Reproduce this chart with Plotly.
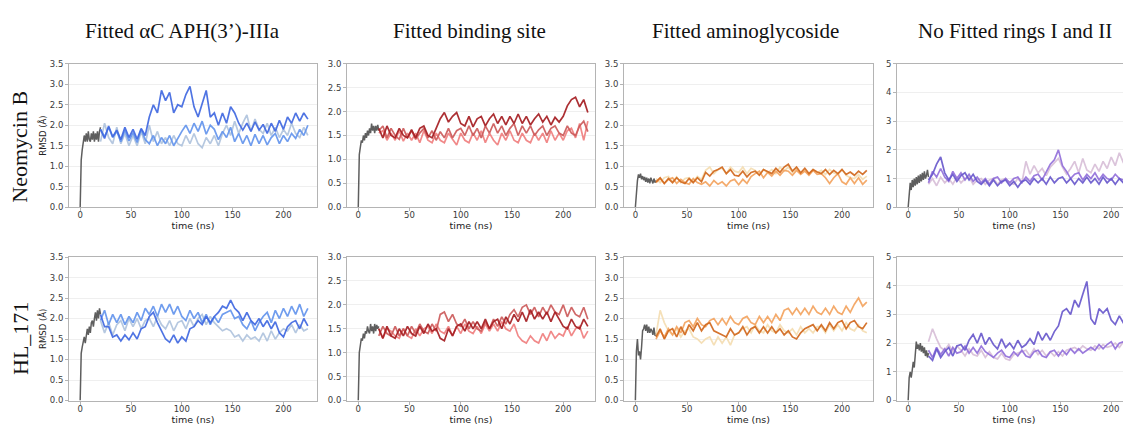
import plotly.graph_objects as go

# ---------------- data ----------------
COL_TITLES = ["Fitted αC APH(3’)-IIIa", "Fitted binding site", "Fitted aminoglycoside", "No Fitted rings I and II"]
ROW_LABELS = ["Neomycin B", "HL_171"]
X_TICKS = [0, 50, 100, 150, 200]
Y_MAX = [3.5, 3.0, 3.5, 5.0]
Y_STEP = [0.5, 0.5, 0.5, 1.0]

T_EQ = list(range(0, 21))            # equilibration time (ns)
T_RUN = list(range(20, 225, 4))      # production time (ns)

# --- row 1: Neomycin B ---
eq_nb_ac = [0.0, 1.15, 1.4, 1.55, 1.75, 1.6, 1.8, 1.6, 1.85, 1.65, 1.6, 1.8, 1.65, 1.85, 1.6, 1.8, 1.65, 1.85, 1.6, 1.85, 1.95]
nb_ac_1 = [1.9, 1.68, 1.98, 1.72, 1.88, 1.65, 1.95, 1.7, 1.9, 1.66, 1.92, 1.75,
           2.2, 2.5, 2.3, 2.85, 2.6, 2.8, 2.3, 2.5, 2.45, 2.75, 2.95, 2.45,
           2.2, 2.55, 2.85, 2.2, 2.3, 2.0, 2.3, 2.05, 2.45, 2.3, 2.05, 1.88, 2.05, 1.85, 2.08, 1.88,
           2.02, 1.8, 2.05, 1.85, 2.12, 1.9, 2.2, 2.05, 2.3, 2.1, 2.3, 2.15]
nb_ac_2 = [1.9, 1.72, 1.95, 1.7, 1.85, 1.6, 1.88, 1.62, 1.82, 1.58, 1.9, 1.65,
           1.55, 1.75, 1.5, 1.7, 1.55, 1.75, 1.5, 1.68, 1.85, 2.0, 1.8, 2.05,
           1.85, 2.1, 1.78, 2.0, 1.9, 1.65, 1.85, 1.7, 1.95, 1.6, 1.8, 1.55, 1.75, 1.5, 1.78, 1.55,
           1.75, 1.52, 1.7, 1.8, 1.55, 1.75, 1.6, 1.8, 1.68, 1.9, 1.75, 2.0]
nb_ac_3 = [1.6, 2.05, 1.7, 1.55, 1.95, 1.55, 1.8, 1.5, 1.75, 1.5, 1.85, 1.55,
           2.0, 1.6, 1.85, 1.55, 1.7, 1.5, 1.75, 1.55, 1.5, 1.75, 1.55, 1.8,
           1.55, 1.45, 1.7, 1.55, 1.75, 1.5, 1.8, 2.0, 1.75, 2.1, 1.8, 2.05, 2.25, 1.85, 2.15, 1.9,
           1.8, 2.05, 1.75, 1.95, 1.7, 1.9, 1.75, 2.05, 1.8, 1.7, 1.95, 1.75]

eq_nb_bs = [0.0, 1.1, 1.25, 1.4, 1.35, 1.5, 1.4, 1.55, 1.45, 1.6, 1.5, 1.65, 1.55, 1.75, 1.6, 1.7, 1.55, 1.7, 1.6, 1.72, 1.6]
nb_bs_1 = [1.65, 1.45, 1.7, 1.5, 1.45, 1.65, 1.5, 1.45, 1.62, 1.45, 1.65, 1.7,
           1.5, 1.45, 1.65, 1.85, 1.98, 1.78, 1.9, 1.98, 1.75, 1.7, 1.9, 1.68,
           1.85, 1.9, 1.7, 1.85, 1.95, 1.75, 1.9, 1.72, 1.9, 1.75, 1.95, 1.75, 1.9, 1.72, 1.85, 1.95,
           1.78, 1.9, 1.72, 1.88, 1.78, 1.9, 2.12, 2.25, 2.3, 2.1, 2.25, 1.98]
nb_bs_2 = [1.6, 1.7, 1.45, 1.65, 1.5, 1.42, 1.65, 1.45, 1.6, 1.42, 1.55, 1.65,
           1.45, 1.6, 1.4, 1.58, 1.45, 1.65, 1.45, 1.6, 1.65, 1.5, 1.7, 1.5,
           1.65, 1.45, 1.7, 1.55, 1.75, 1.55, 1.7, 1.5, 1.65, 1.75, 1.5, 1.7, 1.55, 1.7, 1.5, 1.62,
           1.7, 1.5, 1.65, 1.7, 1.55, 1.5, 1.7, 1.55, 1.5, 1.7, 1.8, 1.58]
nb_bs_3 = [1.55, 1.6, 1.4, 1.55, 1.4, 1.6, 1.38, 1.55, 1.4, 1.55, 1.35, 1.6,
           1.4, 1.35, 1.55, 1.4, 1.35, 1.55, 1.42, 1.3, 1.55, 1.4, 1.35, 1.55,
           1.4, 1.6, 1.35, 1.55, 1.4, 1.3, 1.55, 1.4, 1.6, 1.4, 1.35, 1.55, 1.4, 1.35, 1.55, 1.4,
           1.55, 1.35, 1.6, 1.4, 1.55, 1.4, 1.6, 1.65, 1.45, 1.75, 1.4, 1.8]

eq_nb_ag = [0.0, 0.45, 0.65, 0.8, 0.72, 0.82, 0.68, 0.76, 0.66, 0.74, 0.62, 0.72, 0.6, 0.7, 0.58, 0.72, 0.62, 0.58, 0.7, 0.6, 0.65]
nb_ag_1 = [0.62, 0.72, 0.58, 0.7, 0.6, 0.72, 0.62, 0.58, 0.7, 0.6, 0.72, 0.62,
           0.85, 0.76, 0.88, 0.92, 0.98, 0.82, 0.92, 0.78, 0.76, 0.88, 0.74, 0.85,
           0.88, 0.78, 0.92, 0.86, 0.82, 0.95, 0.85, 0.98, 1.05, 0.88, 0.98, 0.84, 0.95, 0.82, 0.92, 0.86,
           0.82, 0.92, 0.8, 0.9, 0.82, 0.92, 0.8, 0.86, 0.78, 0.88, 0.8, 0.9]
nb_ag_2 = [0.6, 0.7, 0.58, 0.68, 0.72, 0.58, 0.68, 0.6, 0.56, 0.7, 0.6, 0.56,
           0.62, 0.52, 0.65, 0.56, 0.62, 0.52, 0.64, 0.68, 0.55, 0.68, 0.58, 0.75,
           0.82, 0.88, 0.72, 0.85, 0.76, 0.88, 0.78, 0.9, 0.88, 0.78, 0.9, 0.8, 0.88, 0.78, 0.9, 0.8,
           0.82, 0.72, 0.58, 0.72, 0.82, 0.62, 0.56, 0.72, 0.58, 0.72, 0.56, 0.66]
nb_ag_3 = [0.7, 0.6, 0.72, 0.75, 0.62, 0.74, 0.6, 0.7, 0.72, 0.62, 0.75, 0.68,
           0.9, 0.98, 0.82, 0.92, 0.95, 0.82, 0.98, 0.88, 0.85, 0.98, 0.82, 0.95,
           0.9, 0.8, 0.92, 0.84, 0.92, 0.82, 0.98, 0.88, 0.98, 0.85, 0.94, 0.82, 0.9, 0.8, 0.92, 0.84,
           0.9, 0.8, 0.92, 0.84, 0.8, 0.92, 0.78, 0.72, 0.7, 0.8, 0.68, 0.76]

eq_nb_rg = [0.0, 0.5, 0.85, 0.6, 0.95, 0.7, 1.0, 0.75, 1.05, 0.8, 1.1, 0.85, 1.15, 0.9, 1.2, 0.95, 1.25, 1.0, 1.1, 1.3, 1.05]
nb_rg_1 = [0.95, 1.15, 1.5, 1.75, 1.2, 0.95, 1.15, 0.9, 1.1, 1.2, 0.95, 1.15,
           0.9, 0.8, 0.95, 0.75, 0.95, 0.75, 0.9, 0.95, 0.75, 0.9, 0.7, 0.9,
           0.95, 0.8, 1.0, 0.85, 1.0, 0.8, 1.05, 0.85, 1.0, 1.05, 0.85, 1.0, 0.8, 1.0, 0.85, 1.05,
           0.85, 1.0, 0.8, 1.05, 0.85, 1.0, 0.8, 1.0, 0.85, 1.05, 0.85, 1.0]
nb_rg_2 = [0.85, 1.25, 1.05, 1.35, 1.05, 0.9, 1.25, 1.0, 1.2, 0.95, 1.15, 0.9,
           1.05, 0.85, 1.0, 0.8, 1.0, 1.05, 0.85, 1.0, 0.85, 1.0, 1.05, 0.85,
           1.05, 0.9, 1.1, 1.15, 0.95, 1.25, 1.5, 1.65, 2.0, 1.45, 1.25, 1.0, 1.15, 1.2, 0.95, 1.15,
           1.0, 1.2, 0.95, 1.15, 1.0, 0.95, 1.15, 1.0, 0.95, 1.15, 1.0, 1.05]
nb_rg_3 = [0.8, 1.0, 0.75, 1.05, 0.85, 1.0, 0.8, 1.05, 0.85, 1.0, 1.05, 0.8,
           0.95, 1.0, 0.8, 0.95, 1.0, 0.8, 0.95, 1.0, 0.85, 0.8, 1.0, 0.85,
           1.6, 1.15, 1.45, 1.2, 1.35, 1.1, 1.4, 1.55, 1.7, 1.4, 1.15, 1.35, 1.6, 1.2, 1.7, 1.3,
           1.2, 1.5, 1.25, 1.6, 1.35, 1.75, 1.45, 1.9, 1.55, 1.4, 1.8, 1.55]

# --- row 2: HL_171 ---
eq_hl_ac = [0.0, 1.15, 1.3, 1.45, 1.55, 1.4, 1.6, 1.75, 1.6, 1.8, 1.65, 1.9, 1.95, 1.8, 2.0, 2.15, 1.95, 2.2, 2.0, 2.25, 2.1]
hl_ac_1 = [2.1, 1.8, 1.8, 1.55, 1.6, 1.45, 1.6, 1.48, 1.65, 1.5, 1.75, 1.8,
           2.05, 2.15, 1.9, 1.7, 1.5, 1.42, 1.6, 1.4, 1.55, 1.45, 1.75, 1.8,
           1.95, 1.85, 2.05, 1.9, 2.05, 2.15, 2.3, 2.25, 2.45, 2.25, 2.15, 1.95, 2.15, 1.95, 1.85, 2.0,
           1.8, 1.95, 1.75, 1.92, 1.65, 1.55, 1.8, 1.9, 1.95, 1.75, 2.0, 1.82]
hl_ac_2 = [1.95, 2.2, 1.85, 2.1, 1.9, 2.1, 1.85, 2.05, 1.9, 2.15, 1.95, 2.25,
           2.1, 2.3, 2.05, 2.35, 2.15, 2.35, 2.1, 2.3, 2.05, 1.95, 2.2, 2.0,
           2.15, 1.9, 2.1, 1.85, 2.05, 1.9, 2.1, 2.15, 2.2, 2.0, 2.05, 1.85, 1.75, 1.95, 1.7, 1.9,
           2.05, 2.15, 1.9, 2.2, 2.0, 2.25, 2.05, 2.3, 2.1, 2.35, 2.05, 2.25]
hl_ac_3 = [1.95, 1.65, 1.9, 1.6, 1.85, 1.95, 1.7, 2.0, 1.8, 2.0, 1.75, 1.95,
           2.0, 1.8, 2.05, 1.85, 1.75, 1.95, 1.7, 1.9, 1.95, 1.75, 2.0, 1.8,
           2.0, 2.1, 1.85, 2.05, 1.9, 1.8, 1.7, 1.75, 1.7, 1.55, 1.6, 1.45, 1.6, 1.5, 1.55, 1.45,
           1.65, 1.45, 1.7, 1.5, 1.65, 1.75, 1.7, 1.85, 1.65, 1.85, 1.7, 1.75]

eq_hl_bs = [0.0, 1.0, 1.15, 1.3, 1.25, 1.4, 1.3, 1.45, 1.4, 1.55, 1.45, 1.4, 1.6, 1.45, 1.55, 1.4, 1.6, 1.45, 1.58, 1.5, 1.55]
hl_bs_1 = [1.5, 1.3, 1.55, 1.35, 1.3, 1.5, 1.35, 1.55, 1.4, 1.35, 1.55, 1.4,
           1.6, 1.45, 1.5, 1.3, 1.25, 1.5, 1.35, 1.55, 1.6, 1.45, 1.65, 1.5,
           1.65, 1.5, 1.7, 1.5, 1.65, 1.7, 1.5, 1.75, 1.6, 1.8, 1.65, 1.85, 1.65, 1.9, 1.7, 1.85,
           1.7, 1.85, 1.65, 1.85, 1.7, 1.55, 1.5, 1.7, 1.55, 1.5, 1.7, 1.55]
hl_bs_2 = [1.35, 1.55, 1.4, 1.35, 1.55, 1.35, 1.5, 1.35, 1.55, 1.4, 1.6, 1.45,
           1.4, 1.6, 1.45, 1.8, 1.85, 1.65, 1.8, 1.6, 1.55, 1.7, 1.5, 1.65,
           1.5, 1.45, 1.65, 1.5, 1.7, 1.55, 1.75, 1.6, 1.8, 1.9, 1.75, 1.95, 2.0, 1.8, 1.95, 1.75,
           1.95, 1.8, 2.0, 1.85, 1.8, 2.0, 1.75, 1.95, 1.8, 1.75, 1.95, 1.7]
hl_bs_3 = [1.5, 1.3, 1.5, 1.45, 1.35, 1.3, 1.5, 1.35, 1.3, 1.5, 1.35, 1.5,
           1.55, 1.4, 1.6, 1.45, 1.4, 1.55, 1.35, 1.55, 1.4, 1.6, 1.45, 1.4,
           1.55, 1.4, 1.6, 1.45, 1.6, 1.45, 1.65, 1.5, 1.45, 1.6, 1.35, 1.25, 1.2, 1.35, 1.25, 1.2,
           1.4, 1.25, 1.45, 1.3, 1.4, 1.35, 1.55, 1.35, 1.5, 1.55, 1.3, 1.45]

eq_hl_ag = [0.0, 1.2, 1.5, 1.1, 1.2, 1.0, 1.3, 1.7, 1.75, 1.85, 1.7, 1.85, 1.65, 1.8, 1.65, 1.75, 1.7, 1.6, 1.78, 1.58, 1.65]
hl_ag_1 = [1.55, 1.75, 1.5, 1.7, 1.75, 1.55, 1.8, 1.6, 1.85, 1.7, 1.9, 1.7,
           1.85, 1.9, 1.7, 1.65, 1.6, 1.55, 1.75, 1.6, 1.65, 1.8, 1.6, 1.75,
           1.8, 1.65, 1.8, 1.65, 1.8, 1.65, 1.75, 1.6, 1.7, 1.55, 1.5, 1.65, 1.75, 1.8, 1.85, 1.7,
           1.85, 1.7, 1.9, 1.75, 1.9, 1.95, 1.75, 1.9, 1.95, 1.8, 1.75, 1.9]
hl_ag_2 = [1.5, 1.7, 1.55, 1.75, 1.6, 1.8, 1.65, 1.9, 1.95, 1.8, 2.0, 1.85,
           1.8, 1.95, 2.0, 1.85, 2.0, 1.85, 2.05, 1.9, 1.85, 2.0, 2.05, 1.9,
           1.85, 2.05, 1.9, 2.05, 1.9, 2.1, 1.95, 2.2, 2.25, 2.1, 2.25, 2.1, 2.25, 2.1, 2.3, 2.15,
           2.1, 2.25, 2.1, 2.3, 2.15, 2.1, 2.3, 2.15, 2.35, 2.5, 2.3, 2.4]
hl_ag_3 = [1.6, 2.2, 1.9, 1.7, 1.6, 1.75, 1.55, 1.7, 1.75, 1.55, 1.5, 1.4,
           1.5, 1.55, 1.35, 1.55, 1.4, 1.55, 1.35, 1.6, 1.65, 1.75, 1.8, 1.65,
           1.85, 1.7, 1.65, 1.85, 1.7, 1.65, 1.85, 1.7, 1.65, 1.75, 1.6, 1.8, 1.65, 1.75, 1.65, 1.8,
           1.8, 1.65, 1.85, 1.7, 1.85, 1.7, 1.9, 1.75, 1.7, 1.85, 1.7, 1.65]

eq_hl_rg = [0.0, 0.8, 1.0, 0.8, 1.05, 1.35, 1.15, 1.8, 2.05, 1.8, 1.95, 1.75, 2.0, 1.7, 1.9, 1.65, 1.85, 1.55, 1.75, 1.5, 1.65]
hl_rg_1 = [1.55, 1.4, 1.8, 1.5, 1.7, 1.85, 1.55, 1.9, 1.95, 1.75, 2.1, 2.3,
           2.0, 2.35, 1.95, 2.2, 1.95, 1.8, 2.15, 1.85, 2.0, 1.8, 2.1, 1.85,
           1.95, 2.15, 1.95, 2.4, 2.1, 2.35, 2.1, 2.4, 2.6, 3.1, 3.2, 3.0, 3.5, 3.25, 3.7, 4.15,
           2.85, 2.65, 3.2, 3.05, 3.2, 2.8, 2.65, 2.95, 2.7, 2.5, 2.8, 2.45]
hl_rg_2 = [1.75, 1.5, 1.85, 1.6, 1.8, 1.55, 1.85, 1.65, 1.7, 1.9, 1.65, 1.85,
           1.65, 1.9, 1.7, 1.6, 1.5, 1.65, 1.75, 1.55, 1.5, 1.7, 1.55, 1.75,
           1.55, 1.5, 1.7, 1.75, 1.55, 1.5, 1.7, 1.75, 1.55, 1.75, 1.6, 1.8, 1.65, 1.8, 1.65, 1.75,
           1.85, 1.75, 1.95, 1.8, 1.95, 2.05, 1.8, 2.0, 2.05, 1.85, 2.1, 1.9]
hl_rg_3 = [2.05, 2.5, 2.15, 1.85, 1.75, 1.95, 1.7, 1.9, 1.75, 1.55, 1.8, 1.6,
           1.55, 1.75, 1.5, 1.7, 1.5, 1.45, 1.65, 1.45, 1.4, 1.6, 1.65, 1.7,
           1.75, 1.55, 1.8, 1.6, 1.75, 1.55, 1.7, 1.55, 1.7, 1.55, 1.75, 1.8, 1.85, 1.75, 1.9, 1.8,
           1.75, 1.9, 1.8, 1.95, 1.85, 1.9, 2.0, 1.85, 2.05, 1.95, 2.1, 1.9]

EQ = [[eq_nb_ac, eq_nb_bs, eq_nb_ag, eq_nb_rg], [eq_hl_ac, eq_hl_bs, eq_hl_ag, eq_hl_rg]]
RUNS = [
    [[nb_ac_3, nb_ac_2, nb_ac_1], [nb_bs_3, nb_bs_2, nb_bs_1], [nb_ag_3, nb_ag_2, nb_ag_1], [nb_rg_3, nb_rg_2, nb_rg_1]],
    [[hl_ac_3, hl_ac_2, hl_ac_1], [hl_bs_3, hl_bs_2, hl_bs_1], [hl_ag_3, hl_ag_2, hl_ag_1], [hl_rg_3, hl_rg_2, hl_rg_1]],
]

# ---------------- style ----------------
PALETTES = [
    ["#b0c4de", "#6495ed", "#4169e1"],   # blues (light, medium, dark)
    ["#f08080", "#cd5c5c", "#a61e22"],   # reds
    ["#f5deb3", "#f4a460", "#d2691e"],   # oranges
    ["#d8bfd8", "#9370db", "#6a5acd"],   # purples
]
GRAY = "#5e5e5e"
W = 1131
H = 426
OFF = 8                      # page body margin of the html page
FW = W - OFF
FH = H - OFF
COL_PX = [(69, 317), (347, 595), (624, 873), (897, 1131)]
ROW_PX = [(60, 207), (258, 405)]
X_RANGES = [[-11, 233], [-11, 231], [-11, 230], [-11, 219.5]]
TITLE_X = [182, 469, 745, 1015]
TITLE_Y = 26
ROW_LABEL_Y = [145, 342]


def px_x(p):
    return (p - OFF) / FW


def px_y(p):
    return 1 - (p - OFF) / FH


AX_COLOR = "#b4b4b4"
TICK_FONT = dict(family="DejaVu Sans", size=8.5, color="#3a3a3a")

fig = go.Figure()
layout = dict(
    width=FW, height=FH, margin=dict(l=0, r=0, t=0, b=0),
    paper_bgcolor="white", plot_bgcolor="white", showlegend=False,
)

for r in range(2):
    for c in range(4):
        k = r * 4 + c + 1
        xa = "x" if k == 1 else f"x{k}"
        ya = "y" if k == 1 else f"y{k}"
        xkey = "xaxis" if k == 1 else f"xaxis{k}"
        ykey = "yaxis" if k == 1 else f"yaxis{k}"
        x0, x1 = COL_PX[c]
        y0, y1 = ROW_PX[r]
        layout[xkey] = dict(
            domain=[px_x(x0), min(1.0, px_x(x1))], anchor=ya, range=X_RANGES[c],
            showline=True, linecolor=AX_COLOR, linewidth=1, mirror=True,
            ticks="outside", ticklen=3, tickcolor=AX_COLOR, tickvals=X_TICKS,
            tickfont=TICK_FONT, showgrid=False, zeroline=False, ticklabelstandoff=-3,
            title=dict(text="time (ns)", font=dict(family="DejaVu Sans", size=9.5, color="#222"), standoff=0),
        )
        ydict = dict(
            domain=[px_y(y1), px_y(y0)], anchor=xa, range=[0, Y_MAX[c]],
            showline=True, linecolor=AX_COLOR, linewidth=1, mirror=(c != 3),
            ticks="outside", ticklen=3, tickcolor=AX_COLOR, dtick=Y_STEP[c], tick0=0,
            tickformat=".1f" if Y_STEP[c] < 1 else "d",
            tickfont=TICK_FONT, showgrid=True, gridcolor="#efefef", gridwidth=1, zeroline=False,
        )
        if c == 0:
            ydict["title"] = dict(text="RMSD (Å)", font=dict(family="DejaVu Sans", size=8.5, color="#222"), standoff=1)
        layout[ykey] = ydict

        fig.add_trace(go.Scatter(x=T_EQ, y=EQ[r][c], mode="lines", xaxis=xa, yaxis=ya,
                                 line=dict(color=GRAY, width=1.5), hoverinfo="skip"))
        for s, series in enumerate(RUNS[r][c]):
            fig.add_trace(go.Scatter(x=T_RUN, y=series, mode="lines", xaxis=xa, yaxis=ya,
                                     line=dict(color=PALETTES[c][s], width=1.7), opacity=0.92,
                                     hoverinfo="skip"))

annotations = []
for c, t in enumerate(COL_TITLES):
    annotations.append(dict(text=t, x=px_x(TITLE_X[c]), y=px_y(TITLE_Y), xref="paper", yref="paper",
                            xanchor="center", yanchor="middle", showarrow=False,
                            font=dict(family="Liberation Serif", size=21, color="#111")))
for r, t in enumerate(ROW_LABELS):
    annotations.append(dict(text=t, x=px_x(20), y=px_y(ROW_LABEL_Y[r]), xref="paper", yref="paper",
                            xanchor="center", yanchor="middle", showarrow=False, textangle=-90,
                            font=dict(family="Liberation Serif", size=22, color="#111")))
layout["annotations"] = annotations

fig.update_layout(**layout)
fig.write_html("out.html")
